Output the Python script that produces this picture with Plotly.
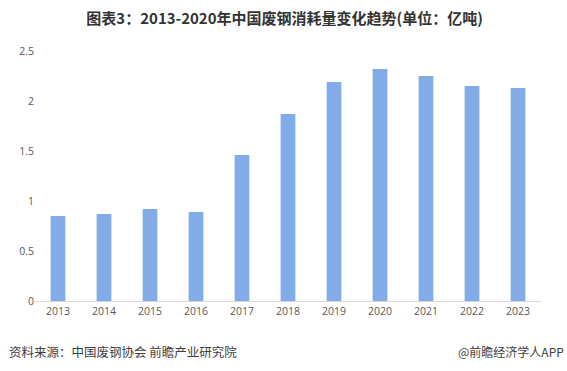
import plotly.graph_objects as go

years = ["2013", "2014", "2015", "2016", "2017", "2018", "2019", "2020", "2021", "2022", "2023"]
values = [0.85, 0.87, 0.92, 0.89, 1.46, 1.87, 2.19, 2.32, 2.25, 2.15, 2.13]
y_ticks = [0, 0.5, 1, 1.5, 2, 2.5]
y_tick_labels = ["0", "0.5", "1", "1.5", "2", "2.5"]

title = "图表3：2013-2020年中国废钢消耗量变化趋势(单位：亿吨)"
source = "资料来源：中国废钢协会 前瞻产业研究院"
credit = "@前瞻经济学人APP"

W, H = 567, 371
ML, MR, MT, MB = 35, 26, 51, 70
pw = W - ML - MR
ph = H - MT - MB


def to_paper(px_x, px_y):
    return (px_x - ML) / pw, (H - MB - px_y) / ph


src_x, src_y = to_paper(7, 351)
cr_x, cr_y = to_paper(566, 351)

fig = go.Figure()
fig.add_trace(go.Bar(x=years, y=values, marker=dict(color="#82ACE8", line=dict(width=0)),
                     hoverinfo="x+y"))

fig.update_layout(
    width=W, height=H,
    margin=dict(l=ML, r=MR, t=MT, b=MB),
    paper_bgcolor="white", plot_bgcolor="white",
    bargap=0.68,
    showlegend=False,
    font=dict(family="Noto Sans CJK SC, sans-serif", color="#595959"),
    title=dict(text="<b>" + title + "</b>", x=0.502, xanchor="center", y=1 - 19 / H, yanchor="middle",
               font=dict(size=15, color="#333333", family="Noto Sans CJK SC, sans-serif")),
    xaxis=dict(type="category", showline=True, linecolor="#D9D9D9", linewidth=1,
               ticks="", tickfont=dict(size=10.5, color="#595959", family="Open Sans, sans-serif"),
               showgrid=False),
    yaxis=dict(range=[0, 2.5], tickvals=y_ticks, ticktext=y_tick_labels, showgrid=False,
               zeroline=False, showline=False, ticks="",
               tickfont=dict(size=10.5, color="#595959", family="Open Sans, sans-serif")),
    annotations=[
        dict(text=source, xref="paper", yref="paper", x=src_x, y=src_y, xanchor="left",
             yanchor="middle", showarrow=False,
             font=dict(size=12.5, color="#404040", family="Noto Sans CJK SC, sans-serif")),
        dict(text=credit, xref="paper", yref="paper", x=cr_x, y=cr_y, xanchor="right",
             yanchor="middle", showarrow=False,
             font=dict(size=12, color="#404040", family="Noto Sans CJK SC, sans-serif")),
    ],
)

fig.write_html("out.html", config={"displayModeBar": False},
               post_script="document.body.style.margin='0';")
